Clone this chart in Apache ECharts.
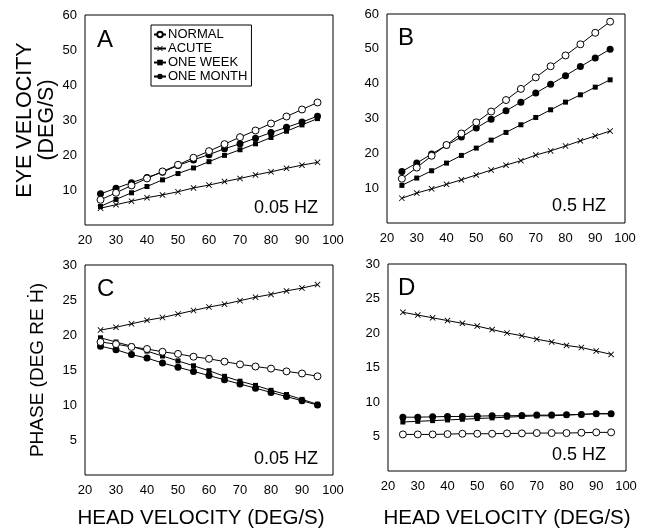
<!DOCTYPE html>
<html>
<head>
<meta charset="utf-8">
<script src="https://cdn.jsdelivr.net/npm/echarts@6/dist/echarts.min.js"></script>
<style>
  html, body { margin: 0; padding: 0; background: #fff; }
  #chart { width: 651px; height: 530px; }
</style>
</head>
<body>
<div id="chart"></div>
<script>
// head velocity (deg/s), same for every panel
const headVel = [25, 30, 35, 40, 45, 50, 55, 60, 65, 70, 75, 80, 85, 90, 95];
const groups = ['NORMAL', 'ACUTE', 'ONE WEEK', 'ONE MONTH'];

// A: eye velocity, 0.05 Hz
const aNormal = [7.2, 9.2, 11.3, 13.3, 15.3, 17.2, 19.2, 21.1, 23.1, 25.1, 27.0, 29.0, 31.0, 33.0, 35.0];
const aAcute  = [4.8, 5.8, 6.8, 7.8, 8.6, 9.5, 10.6, 11.4, 12.4, 13.3, 14.3, 15.2, 16.2, 17.1, 17.9];
const aWeek   = [5.3, 7.3, 9.2, 11.0, 12.9, 14.7, 16.3, 18.1, 19.9, 21.5, 23.2, 25.0, 26.8, 28.6, 30.4];
const aMonth  = [8.9, 10.5, 12.1, 13.6, 15.1, 17.0, 18.6, 20.1, 21.8, 23.2, 24.8, 26.4, 27.9, 29.4, 31.1];

// B: eye velocity, 0.5 Hz
const bNormal = [12.7, 15.9, 19.3, 22.4, 25.7, 28.9, 32.0, 35.3, 38.5, 41.8, 45.0, 48.1, 51.3, 54.6, 57.8];
const bAcute  = [7.1, 8.6, 9.8, 11.1, 12.4, 13.8, 15.2, 16.6, 17.9, 19.5, 20.7, 22.1, 23.6, 25.0, 26.4];
const bWeek   = [10.8, 12.9, 15.0, 17.2, 19.4, 21.5, 23.8, 26.0, 28.2, 30.3, 32.5, 34.7, 36.8, 39.0, 41.1];
const bMonth  = [14.8, 17.2, 19.8, 22.3, 24.7, 27.3, 29.8, 32.2, 34.7, 37.3, 39.8, 42.3, 44.9, 47.4, 49.9];

// C: phase, 0.05 Hz
const cNormal = [19.0, 18.7, 18.3, 18.0, 17.6, 17.3, 16.9, 16.6, 16.2, 15.8, 15.5, 15.2, 14.8, 14.5, 14.1];
const cAcute  = [20.7, 21.1, 21.6, 22.1, 22.5, 23.0, 23.5, 24.0, 24.4, 24.9, 25.4, 25.8, 26.3, 26.7, 27.2];
const cWeek   = [19.6, 19.0, 18.4, 17.7, 17.0, 16.3, 15.6, 14.9, 14.1, 13.4, 12.8, 12.1, 11.5, 10.8, 10.1];
const cMonth  = [18.4, 17.9, 17.2, 16.7, 16.0, 15.4, 14.8, 14.2, 13.6, 13.0, 12.4, 11.8, 11.2, 10.6, 10.0];

// D: phase, 0.5 Hz
const dNormal = [5.3, 5.3, 5.3, 5.35, 5.4, 5.4, 5.4, 5.45, 5.45, 5.5, 5.5, 5.5, 5.55, 5.6, 5.6];
const dAcute  = [23.0, 22.6, 22.2, 21.8, 21.4, 21.0, 20.5, 20.0, 19.6, 19.1, 18.7, 18.2, 17.9, 17.4, 16.9];
const dWeek   = [7.1, 7.2, 7.3, 7.4, 7.5, 7.6, 7.7, 7.8, 7.9, 8.0, 8.0, 8.1, 8.2, 8.3, 8.3];
const dMonth  = [7.8, 7.8, 7.85, 7.9, 7.9, 7.95, 8.0, 8.0, 8.05, 8.1, 8.1, 8.15, 8.2, 8.3, 8.3];

const panels = [
    [aNormal, aAcute, aWeek, aMonth],
    [bNormal, bAcute, bWeek, bMonth],
    [cNormal, cAcute, cWeek, cMonth],
    [dNormal, dAcute, dWeek, dMonth]
];

const FONT = '"Liberation Sans", Arial, sans-serif';

// marker style per group
const marks = {
    'NORMAL':    { symbol: 'circle', symbolSize: 7, itemStyle: { color: '#fff', borderColor: '#000', borderWidth: 1 } },
    // thin filled cross, so it looks the same in the legend
    'ACUTE':     { symbol: 'path://M0,1L1,0L5,4L9,0L10,1L6,5L10,9L9,10L5,6L1,10L0,9L4,5Z', symbolSize: 6, itemStyle: { color: '#000', borderWidth: 0 } },
    'ONE WEEK':  { symbol: 'rect', symbolSize: 5, itemStyle: { color: '#000', borderColor: '#000', borderWidth: 0 } },
    'ONE MONTH': { symbol: 'circle', symbolSize: 7, itemStyle: { color: '#000', borderColor: '#000', borderWidth: 0 } }
};

var chart = echarts.init(document.getElementById('chart'));

let grids = [
    { left: 85, top: 15, width: 248, height: 210 },
    { left: 387, top: 14, width: 238, height: 209 },
    { left: 85, top: 265, width: 248, height: 212 },
    { left: 388, top: 264, width: 238, height: 209 }
].map(function (g) {
    return Object.assign({ show: true, borderColor: '#000', borderWidth: 1, backgroundColor: '#fff' }, g);
});

let xAxes = [];
let yAxes = [];
for (let i = 0; i < 4; i++) {
    xAxes.push({
        type: 'value',
        gridIndex: i,
        min: 20,
        max: 100,
        interval: 10,
        axisLine: { show: false },
        axisTick: { show: false },
        splitLine: { show: false },
        axisLabel: { color: '#000', fontSize: 13, fontFamily: FONT, margin: 9 },
        name: i >= 2 ? 'HEAD VELOCITY (DEG/S)' : '',
        nameLocation: 'middle',
        nameGap: i === 2 ? 33 : 37,
        nameTextStyle: {
            color: '#000', fontSize: 20.5, fontFamily: FONT,
            padding: i === 2 ? [0, 16, 0, 0] : 0
        }
    });
    let top = i < 2;
    yAxes.push({
        type: 'value',
        gridIndex: i,
        min: 0,
        max: top ? 60 : 30,
        interval: top ? 10 : 5,
        axisLine: { show: false },
        axisTick: { show: false },
        splitLine: { show: false },
        axisLabel: {
            color: '#000', fontSize: 13, fontFamily: FONT, margin: 8,
            formatter: function (v) { return v === 0 ? '' : v; }
        },
        name: i === 0 ? 'EYE VELOCITY\n(DEG/S)' : (i === 2 ? 'PHASE (DEG RE \u1E22)' : ''),
        nameLocation: 'middle',
        nameRotate: 90,
        nameGap: i === 0 ? 27 : 36,
        nameTextStyle: {
            color: '#000', fontFamily: FONT,
            fontSize: i === 0 ? 21.5 : 19,
            lineHeight: i === 0 ? 22 : 23
        }
    });
}

let series = [];
panels.forEach(function (vals, p) {
    groups.forEach(function (name, k) {
        series.push(Object.assign({
            name: name,
            type: 'line',
            xAxisIndex: p,
            yAxisIndex: p,
            data: headVel.map(function (x, j) { return [x, vals[k][j]]; }),
            lineStyle: { color: '#000', width: 1 },
            showAllSymbol: true,
            animation: false,
            z: k === 0 ? 4 : 3
        }, marks[name]));
    });
});

const letters = [['A', 97, 28], ['B', 398, 26], ['C', 97, 277], ['D', 398, 276]];
const freqs = [['0.05 HZ', 318, 199], ['0.5 HZ', 606, 197], ['0.05 HZ', 318, 450], ['0.5 HZ', 606, 446]];

let graphic = [];
letters.forEach(function (l) {
    graphic.push({ type: 'text', left: l[1], top: l[2], style: { text: l[0], font: '24px ' + FONT, fill: '#000' } });
});
freqs.forEach(function (f) {
    graphic.push({ type: 'text', right: 651 - f[1], top: f[2], style: { text: f[0], font: '18px ' + FONT, fill: '#000' } });
});

option1 = {
    backgroundColor: '#fff',
    animation: false,
    grid: grids,
    xAxis: xAxes,
    yAxis: yAxes,
    legend: {
        data: groups,
        orient: 'vertical',
        left: 151,
        top: 25,
        borderColor: '#000',
        borderWidth: 1,
        padding: [3, 4, 3, 2],
        itemGap: 1,
        itemWidth: 12,
        itemHeight: 7,
        textStyle: { color: '#000', fontSize: 13, fontFamily: FONT, padding: [0, 0, 0, -3] },
        selectedMode: false
    },
    graphic: graphic,
    series: series
};
chart.setOption(option1);
</script>
</body>
</html>
